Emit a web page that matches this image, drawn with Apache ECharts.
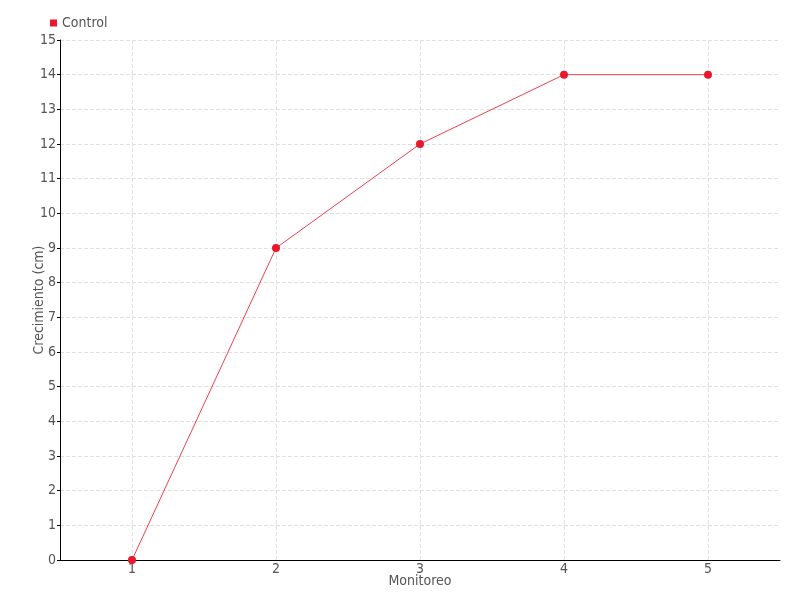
<!DOCTYPE html>
<html><head><meta charset="utf-8">
<script src="https://cdn.jsdelivr.net/npm/echarts@6/dist/echarts.min.js"></script>
<style>html,body{margin:0;padding:0;background:#fff}#c{width:800px;height:600px}</style>
</head><body><div id="c"></div>
<script>
const categories = ['1','2','3','4','5'];
const controlValues = [0, 9, 12, 14, 14];
const seriesName = 'Control';
const xAxisName = 'Monitoreo';
const yAxisName = 'Crecimiento (cm)';

const FONT = '"DejaVu Sans Condensed", "Liberation Sans Narrow", sans-serif';
const chart = echarts.init(document.getElementById('c'));
chart.setOption({
  animation: false,
  textStyle: { fontFamily: FONT, color: '#555' },
  legend: {
    left: 45, top: 11, itemWidth: 7, itemHeight: 7, itemGap: 4,
    icon: 'rect',
    textStyle: { fontFamily: FONT, fontSize: 14, color: '#555' },
    data: [seriesName]
  },
  grid: { left: 60, right: 20, top: 40, bottom: 40 },
  xAxis: {
    type: 'category', data: categories, boundaryGap: true,
    name: xAxisName, nameLocation: 'middle', nameGap: 14, nameMoveOverlap: false,
    nameTextStyle: { fontFamily: FONT, fontSize: 14, color: '#555' },
    axisLine: { lineStyle: { color: '#000' } },
    axisTick: { show: false },
    axisLabel: { margin: 2, fontFamily: FONT, fontSize: 14, color: '#555' },
    splitLine: { show: true, alignWithLabel: true, lineStyle: { type: 'dashed', color: '#e0e0e0' } }
  },
  yAxis: {
    type: 'value', min: 0, max: 15, interval: 1,
    name: yAxisName, nameLocation: 'middle', nameGap: 14, nameMoveOverlap: false,
    nameTextStyle: { fontFamily: FONT, fontSize: 14, color: '#555' },
    axisLine: { show: true, lineStyle: { color: '#000' } },
    axisTick: { show: true, length: 3, lineStyle: { color: '#000' } },
    axisLabel: { margin: 4, fontFamily: FONT, fontSize: 14, color: '#555' },
    splitLine: { show: true, lineStyle: { type: 'dashed', color: '#e0e0e0' } }
  },
  series: [{
    name: seriesName, type: 'line', data: controlValues,
    symbol: 'circle', symbolSize: 8,
    itemStyle: { color: '#e8192c' },
    lineStyle: { color: '#f2404f', width: 1 }
  }]
});
</script></body></html>
